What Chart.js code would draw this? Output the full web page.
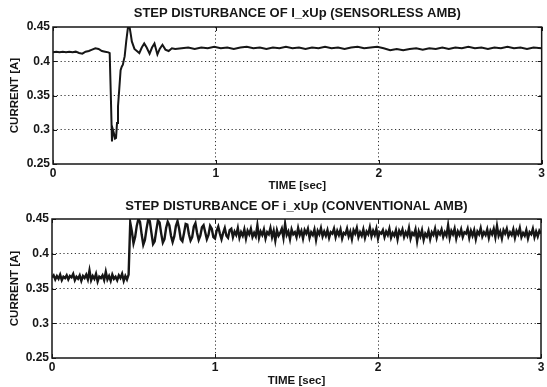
<!DOCTYPE html>
<html>
<head>
<meta charset="utf-8">
<script src="https://cdn.jsdelivr.net/npm/chart.js@4.4.1/dist/chart.umd.min.js"></script>
<style>
  html, body { margin: 0; padding: 0; background: #fff; }
  #wrap { position: relative; width: 547px; height: 387px; overflow: hidden; }
  canvas { position: absolute; left: 0; }
  #topChart { top: 0; width: 547px; height: 193px; }
  #bottomChart { top: 193px; width: 547px; height: 194px; }
</style>
</head>
<body>
<div id="wrap">
  <canvas id="topChart" width="547" height="193"></canvas>
  <canvas id="bottomChart" width="547" height="194"></canvas>
</div>
<script>
const topTitle = 'STEP DISTURBANCE OF I_xUp (SENSORLESS AMB)';
const bottomTitle = 'STEP DISTURBANCE OF i_xUp (CONVENTIONAL AMB)';
const xLabel = 'TIME [sec]';
const yLabel = 'CURRENT [A]';

const xTicks = [0, 1, 2, 3];
const yTicks = [0.25, 0.3, 0.35, 0.4, 0.45];

// sensorless AMB
const sensorlessTime = [
  0, 0.02, 0.04, 0.06, 0.08, 0.10, 0.12, 0.14, 0.16, 0.18,
  0.20, 0.22, 0.24, 0.26, 0.28, 0.30, 0.32, 0.34, 0.348, 0.355,
  0.362, 0.368, 0.374, 0.381, 0.387, 0.393, 0.399, 0.407, 0.415, 0.422,
  0.429, 0.435, 0.44, 0.45, 0.46, 0.47, 0.477, 0.484, 0.50, 0.515,
  0.53, 0.545, 0.56, 0.575, 0.593, 0.608, 0.623, 0.632, 0.641, 0.655,
  0.672, 0.69, 0.71, 0.73, 0.75,
  0.79, 0.83, 0.87, 0.91, 0.95, 0.99, 1.03, 1.07, 1.11, 1.15,
  1.19, 1.23, 1.27, 1.31, 1.35, 1.39, 1.43, 1.47, 1.51, 1.55,
  1.59, 1.63, 1.67, 1.71, 1.75, 1.79, 1.83, 1.87, 1.91, 1.95,
  1.99, 2.03, 2.07, 2.11, 2.15, 2.19, 2.23, 2.27, 2.31, 2.35,
  2.39, 2.43, 2.47, 2.51, 2.55, 2.59, 2.63, 2.67, 2.71, 2.75,
  2.79, 2.83, 2.87, 2.91, 2.95, 3.0
];
const sensorlessCurrent = [
  0.413, 0.414, 0.413, 0.414, 0.413, 0.414, 0.413, 0.414, 0.412, 0.411,
  0.414, 0.415, 0.417, 0.419, 0.418, 0.415, 0.414, 0.413, 0.412, 0.35,
  0.283, 0.30, 0.295, 0.287, 0.288, 0.31, 0.334, 0.36, 0.387, 0.392,
  0.395, 0.402, 0.407, 0.43, 0.449, 0.45, 0.44, 0.429, 0.418, 0.415,
  0.412, 0.42, 0.426, 0.42, 0.411, 0.42, 0.426, 0.418, 0.41, 0.418,
  0.424, 0.417, 0.415, 0.419, 0.418,
  0.419, 0.420, 0.418, 0.420, 0.419, 0.421, 0.419, 0.420, 0.418, 0.420,
  0.421, 0.419, 0.420, 0.418, 0.420, 0.419, 0.421, 0.419, 0.420, 0.418,
  0.420, 0.419, 0.421, 0.419, 0.420, 0.418, 0.420, 0.421, 0.419, 0.420,
  0.421, 0.419, 0.416, 0.418, 0.416, 0.418, 0.419, 0.417, 0.419, 0.418,
  0.420, 0.418, 0.420, 0.419, 0.421, 0.419, 0.420, 0.418, 0.420, 0.419,
  0.421, 0.419, 0.420, 0.418, 0.420, 0.419
];

// conventional AMB, one sample every 0.01 s from 0 to 3 s
const conventionalStep = 0.01;
const conventionalCurrent = [
  0.366, 0.369, 0.363, 0.368, 0.364, 0.370, 0.362, 0.367, 0.365, 0.369,
  0.363, 0.368, 0.366, 0.371, 0.362, 0.367, 0.364, 0.369, 0.361, 0.368,
  0.365, 0.370, 0.363, 0.376, 0.362, 0.368, 0.364, 0.371, 0.360, 0.367,
  0.365, 0.369, 0.362, 0.374, 0.363, 0.368, 0.361, 0.370, 0.364, 0.367,
  0.362, 0.369, 0.365, 0.371, 0.361, 0.368, 0.363, 0.370, 0.445, 0.432,
  0.415, 0.424, 0.440, 0.450, 0.446, 0.428, 0.413, 0.420, 0.436, 0.449,
  0.447, 0.430, 0.414, 0.418, 0.434, 0.448, 0.445, 0.429, 0.416, 0.421,
  0.437, 0.446, 0.441, 0.426, 0.417, 0.425, 0.440, 0.447, 0.436, 0.421,
  0.418, 0.430, 0.443, 0.442, 0.428, 0.419, 0.424, 0.439, 0.444, 0.430,
  0.420, 0.426, 0.438, 0.441, 0.431, 0.421, 0.427, 0.440, 0.436, 0.424,
  0.422, 0.433, 0.439, 0.429, 0.421, 0.430, 0.437, 0.426, 0.423, 0.434,
  0.436, 0.424, 0.432, 0.427, 0.437, 0.423, 0.431, 0.426, 0.435, 0.422,
  0.433, 0.428, 0.436, 0.424, 0.430, 0.425, 0.441, 0.423, 0.432, 0.427,
  0.435, 0.422, 0.431, 0.428, 0.437, 0.424, 0.433, 0.419, 0.434, 0.426,
  0.430, 0.436, 0.423, 0.443, 0.427, 0.432, 0.421, 0.435, 0.428, 0.431,
  0.424, 0.437, 0.427, 0.433, 0.422, 0.434, 0.429, 0.436, 0.423, 0.431,
  0.427, 0.435, 0.420, 0.433, 0.428, 0.437, 0.425, 0.432, 0.426, 0.434,
  0.423, 0.431, 0.429, 0.436, 0.424, 0.433, 0.427, 0.435, 0.422, 0.430,
  0.428, 0.436, 0.425, 0.432, 0.421, 0.434, 0.429, 0.437, 0.424, 0.431,
  0.426, 0.435, 0.423, 0.432, 0.428, 0.438, 0.425, 0.433, 0.427, 0.436,
  0.422, 0.431, 0.429, 0.434, 0.424, 0.432, 0.427, 0.436, 0.423, 0.430,
  0.426, 0.434, 0.421, 0.433, 0.428, 0.435, 0.424, 0.431, 0.426, 0.437,
  0.422, 0.430, 0.427, 0.435, 0.418, 0.432, 0.425, 0.434, 0.420, 0.429,
  0.425, 0.433, 0.421, 0.431, 0.427, 0.436, 0.423, 0.432, 0.428, 0.435,
  0.424, 0.431, 0.426, 0.441, 0.423, 0.433, 0.428, 0.436, 0.422, 0.432,
  0.427, 0.435, 0.424, 0.431, 0.429, 0.436, 0.423, 0.433, 0.426, 0.434,
  0.421, 0.432, 0.428, 0.437, 0.425, 0.431, 0.427, 0.435, 0.423, 0.433,
  0.428, 0.436, 0.424, 0.440, 0.426, 0.432, 0.422, 0.434, 0.429, 0.436,
  0.425, 0.431, 0.427, 0.435, 0.423, 0.433, 0.428, 0.437, 0.424, 0.430,
  0.426, 0.434, 0.422, 0.431, 0.428, 0.436, 0.424, 0.432, 0.425, 0.433,
  0.429
];

const INK = '#161616';
const FAMILY = '"Liberation Sans", Arial, sans-serif';
const titleFont = 'bold 13px ' + FAMILY;
const axisTitleFont = 'bold 11.5px ' + FAMILY;

const framePlugin = {
  id: 'frame',
  afterDatasetsDraw(chart, args, opts) {
    const { ctx, chartArea: a, scales: { x, y } } = chart;
    ctx.save();
    ctx.strokeStyle = INK;
    ctx.lineWidth = 1.5;
    ctx.strokeRect(a.left, a.top, a.right - a.left, a.bottom - a.top);

    // matlab style inward ticks
    ctx.lineWidth = 1;
    ctx.beginPath();
    xTicks.forEach(v => {
      const px = Math.round(x.getPixelForValue(v)) + 0.5;
      ctx.moveTo(px, a.bottom); ctx.lineTo(px, a.bottom - 4);
      ctx.moveTo(px, a.top); ctx.lineTo(px, a.top + 4);
    });
    yTicks.forEach(v => {
      const py = Math.round(y.getPixelForValue(v)) + 0.5;
      ctx.moveTo(a.left, py); ctx.lineTo(a.left + 4, py);
      ctx.moveTo(a.right, py); ctx.lineTo(a.right - 4, py);
    });
    ctx.stroke();

    ctx.fillStyle = INK;
    ctx.textAlign = 'center';
    ctx.textBaseline = 'middle';
    ctx.font = titleFont;
    ctx.fillText(opts.title, (a.left + a.right) / 2, opts.titleY);
    ctx.font = axisTitleFont;
    ctx.fillText(xLabel, (a.left + a.right) / 2, opts.xLabelY);
    ctx.translate(15, (a.top + a.bottom) / 2);
    ctx.rotate(-Math.PI / 2);
    ctx.fillText(yLabel, 0, 0);
    ctx.restore();
  }
};

function makeChart(id, points, opts) {
  const isEdge = v => Math.abs(v - 0.25) < 1e-6 || Math.abs(v - 0.45) < 1e-6 || v === 0 || v === 3;
  const gridColor = c => (c.tick && isEdge(c.tick.value)) ? 'rgba(0,0,0,0)' : '#333';
  const tickFont = { family: FAMILY, size: 12, weight: 'bold' };
  return new Chart(document.getElementById(id), {
    type: 'line',
    data: {
      datasets: [{
        data: points,
        borderColor: INK,
        borderWidth: opts.lineWidth,
        pointRadius: 0,
        tension: 0,
        fill: false
      }]
    },
    options: {
      responsive: false,
      animation: false,
      events: [],
      layout: { padding: { top: opts.top, right: opts.right, left: 0, bottom: 0 } },
      plugins: {
        legend: { display: false },
        tooltip: { enabled: false },
        frame: { title: opts.title, titleY: opts.titleY, xLabelY: opts.xLabelY }
      },
      scales: {
        x: {
          type: 'linear',
          min: 0,
          max: 3,
          afterFit: s => { s.height = opts.xHeight; },
          afterBuildTicks: s => { s.ticks = xTicks.map(v => ({ value: v })); },
          ticks: { padding: 2, color: INK, font: tickFont, maxRotation: 0 },
          grid: { drawTicks: false, lineWidth: 1, color: gridColor },
          border: { display: false, dash: [1.2, 2.6] }
        },
        y: {
          min: 0.25,
          max: 0.45,
          afterFit: s => { s.width = opts.left; },
          afterBuildTicks: s => { s.ticks = yTicks.map(v => ({ value: v })); },
          ticks: {
            padding: 3,
            color: INK,
            font: tickFont,
            callback: v => String(+v.toFixed(2))
          },
          grid: { drawTicks: false, lineWidth: 1, color: gridColor },
          border: { display: false, dash: [1.2, 2.6] }
        }
      }
    },
    plugins: [framePlugin]
  });
}

const sensorlessPoints = sensorlessTime.map((t, i) => ({ x: t, y: sensorlessCurrent[i] }));
const conventionalPoints = conventionalCurrent.map((v, i) => ({ x: +(i * conventionalStep).toFixed(2), y: v }));

makeChart('topChart', sensorlessPoints, {
  title: topTitle, titleY: 13, xLabelY: 186,
  top: 27, right: 3, left: 53, xHeight: 29, lineWidth: 2
});
makeChart('bottomChart', conventionalPoints, {
  title: bottomTitle, titleY: 13, xLabelY: 188,
  top: 26, right: 6, left: 52, xHeight: 29, lineWidth: 2.4
});
</script>
</body>
</html>
